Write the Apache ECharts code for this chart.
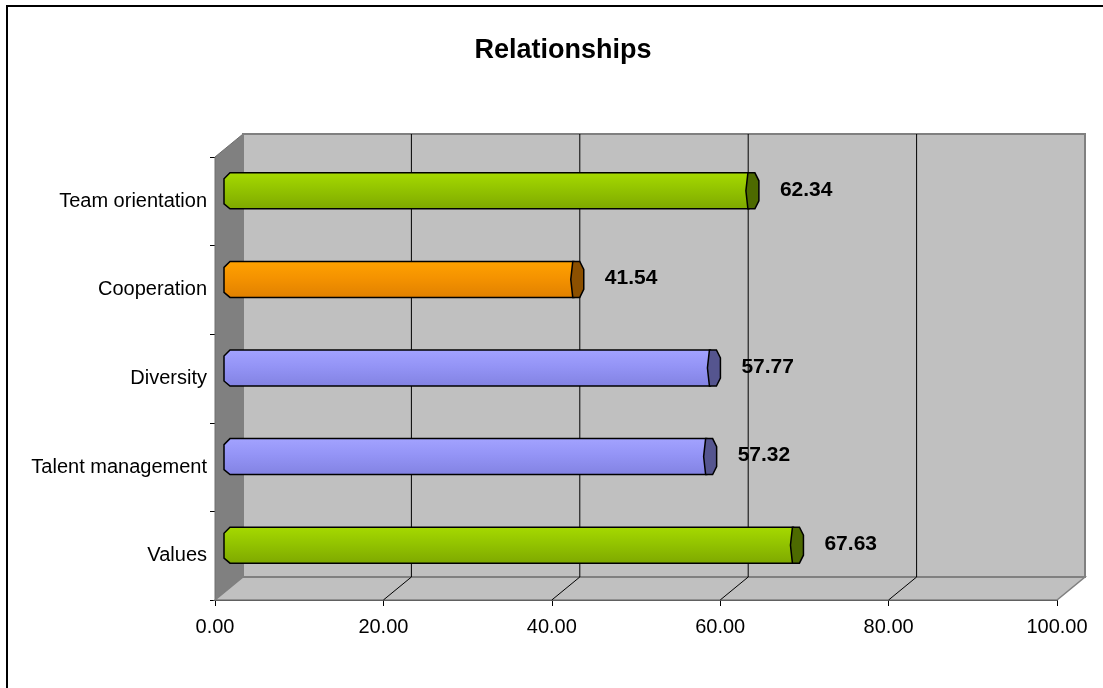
<!DOCTYPE html>
<html>
<head>
<meta charset="utf-8">
<script src="https://cdn.jsdelivr.net/npm/echarts@6/dist/echarts.min.js"></script>
<style>html,body{margin:0;padding:0;background:#fff;}#c{width:1103px;height:688px;}</style>
</head>
<body>
<div id="c"></div>
<script>
// ---- data ----
var categories = ['Values', 'Talent management', 'Diversity', 'Cooperation', 'Team orientation'];
var values = [67.63, 57.32, 57.77, 41.54, 62.34];
var xTicks = [0, 20, 40, 60, 80, 100];
var colorGroup = ['green', 'blue', 'blue', 'orange', 'green'];

// ---- styles ----
var FONT = 'Liberation Sans, Arial, sans-serif';
var DX = 28, DY = -23;   // 3D depth offset (px)
var BAR_H = 36;
var palette = {
  green:  {top: '#a6da00', mid: '#93c400', bot: '#7ea800', cap: '#4d6a00'},
  blue:   {top: '#a3a3ff', mid: '#9494f6', bot: '#8282e2', cap: '#55558f'},
  orange: {top: '#ffa200', mid: '#f59300', bot: '#e08000', cap: '#8c5000'}
};

var chart = echarts.init(document.getElementById('c'));

function renderWalls(params, api) {
  var cs = params.coordSys;
  var x0 = cs.x, y0 = cs.y, w = cs.width, h = cs.height;
  var children = [];
  children.push({type: 'polygon', shape: {points: [[x0, y0], [x0 + DX, y0 + DY], [x0 + DX, y0 + h + DY], [x0, y0 + h]]},
    style: {fill: '#808080', stroke: '#6e6e6e', lineWidth: 1}});
  children.push({type: 'polygon', shape: {points: [[x0, y0 + h], [x0 + DX, y0 + h + DY], [x0 + w + DX, y0 + h + DY], [x0 + w, y0 + h]]},
    style: {fill: '#c0c0c0', stroke: '#808080', lineWidth: 1.5}});
  children.push({type: 'rect', shape: {x: x0 + DX, y: y0 + DY, width: w, height: h},
    style: {fill: '#c0c0c0', stroke: '#808080', lineWidth: 2}});
  for (var i = 0; i < xTicks.length; i++) {
    var t = xTicks[i];
    var px = api.coord([t, 0])[0];
    if (t > xTicks[0] && t < xTicks[xTicks.length - 1]) {
      children.push({type: 'line', shape: {x1: px + DX, y1: y0 + DY, x2: px + DX, y2: y0 + h + DY},
        style: {stroke: '#000', lineWidth: 1}});
      children.push({type: 'line', shape: {x1: px, y1: y0 + h, x2: px + DX, y2: y0 + h + DY},
        style: {stroke: '#000', lineWidth: 1}});
    }
  }
  return {type: 'group', children: children};
}

function renderBar(params, api) {
  var v = api.value(0), ci = api.value(1);
  var p0 = api.coord([0, ci]);
  var p1 = api.coord([v, ci]);
  var L = p0[0] + DX / 2, R = p1[0] + DX / 2;
  var cy = p0[1] + DY / 2 + 1;
  var T = cy - BAR_H / 2, B = cy + BAR_H / 2;
  var c = palette[colorGroup[params.dataIndex]];
  var grad = new echarts.graphic.LinearGradient(0, 0, 0, 1, [
    {offset: 0, color: c.top}, {offset: 0.45, color: c.mid}, {offset: 1, color: c.bot}
  ]);
  return {type: 'group', children: [
    {type: 'polygon', shape: {points: [[L + 1, T], [R - 5, T], [R - 5, B], [L + 1, B], [L - 5, B - 5], [L - 5, T + 6]]},
      style: {fill: grad, stroke: '#000', lineWidth: 1.5}},
    {type: 'polygon', shape: {points: [[R - 6, T], [R + 1, T], [R + 5, T + 8], [R + 5, B - 8], [R + 1, B], [R - 6, B], [R - 8, cy]]},
      style: {fill: c.cap, stroke: '#000', lineWidth: 1.5}},
    {type: 'text', x: R + 26, y: cy - 1,
      style: {text: v.toFixed(2), fill: '#000', font: 'bold 21px ' + FONT, textAlign: 'left', textVerticalAlign: 'middle'}}
  ]};
}

var barData = values.map(function (v, i) { return [v, i]; });

chart.setOption({
  animation: false,
  backgroundColor: '#fff',
  title: {
    text: 'Relationships', left: 558, top: 32, textAlign: 'center',
    textStyle: {fontFamily: FONT, fontWeight: 'bold', fontSize: 27, color: '#000'}
  },
  grid: {left: 215, right: 46, top: 157, bottom: 88, containLabel: false},
  xAxis: {
    type: 'value', min: 0, max: 100, interval: 20,
    axisLine: {show: true, lineStyle: {color: '#000', width: 1}},
    axisTick: {show: true, length: 6, lineStyle: {color: '#000'}},
    splitLine: {show: false},
    axisLabel: {margin: 17, color: '#000', fontFamily: FONT, fontSize: 20,
      formatter: function (v) { return v.toFixed(2); }}
  },
  yAxis: {
    type: 'category', data: categories,
    axisLine: {show: true, lineStyle: {color: '#000', width: 1}},
    axisTick: {show: true, length: 5, lineStyle: {color: '#000'}},
    splitLine: {show: false},
    axisLabel: {margin: 8, color: '#000', fontFamily: FONT, fontSize: 20}
  },
  graphic: [{
    type: 'rect', z: 100,
    shape: {x: 7, y: 6, width: 1200, height: 800},
    style: {fill: 'none', stroke: '#000', lineWidth: 2}
  }],
  series: [
    {type: 'custom', renderItem: renderWalls, data: [[0, 0]], clip: false, z: 1, silent: true},
    {type: 'custom', renderItem: renderBar, data: barData, clip: false, z: 5, silent: true,
      encode: {x: 0, y: 1}}
  ]
});
</script>
</body>
</html>
